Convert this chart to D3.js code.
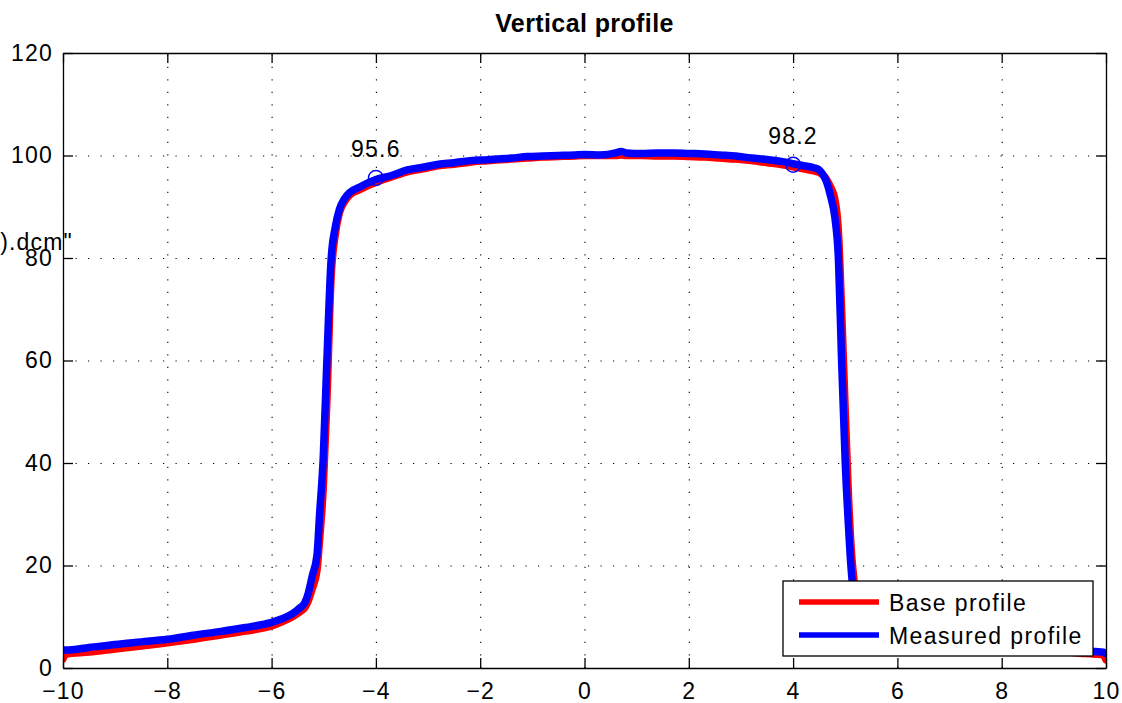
<!DOCTYPE html>
<html>
<head>
<meta charset="utf-8">
<script src="https://cdn.jsdelivr.net/npm/d3@7"></script>
<style>
  body { margin: 0; background: #fff; }
  text { font-family: "Liberation Sans", Arial, Helvetica, sans-serif; }
</style>
</head>
<body>
<script>
// positions along the profile (cm)
const xPos = [-10, -9.95, -9.5, -9, -8.5, -8, -7.5, -7, -6.5, -6, -5.8, -5.6, -5.45, -5.36, -5.3, -5.22, -5.13, -5.08, -5.01, -4.94,
  -4.86, -4.78, -4.7, -4.6, -4.5, -4.3, -4.0, -3.7, -3.4, -3.1, -2.8, -2.5, -2.2, -2.0, -1.7, -1.4, -1.1, -0.8, -0.5, -0.2,
  0, 0.3, 0.6, 0.7, 0.8, 1.1, 1.4, 1.7, 2.0, 2.3, 2.6, 2.9, 3.2, 3.5, 3.8, 4.0, 4.2, 4.4, 4.5, 4.6,
  4.65, 4.72, 4.8, 4.87, 4.93, 5.0, 5.06, 5.11, 5.17, 5.25, 5.35, 5.45, 5.6, 5.8, 6, 6.5, 7, 7.5, 8, 8.5,
  9, 9.5, 9.8, 9.95, 10]

const baseProfile = [1.8, 2.7, 3.1, 3.7, 4.3, 4.9, 5.6, 6.4, 7.2, 8.2, 9.0, 10.0, 11.0, 11.8, 13, 15.5, 19, 25, 35, 52,
  76, 84.5, 88.8, 91, 92.3, 93.4, 94.8, 95.8, 96.8, 97.4, 98.0, 98.3, 98.7, 98.9, 99.1, 99.3, 99.5, 99.7, 99.8, 99.9,
  100.0, 100.0, 100.0, 100.1, 100.0, 100.0, 99.9, 99.9, 99.8, 99.7, 99.5, 99.3, 99.0, 98.6, 98.2, 97.8, 97.4, 97.0, 96.7, 95.9,
  95.2, 93.8, 91.5, 85, 70, 50, 34, 24, 17, 13.5, 11.6, 10.6, 9.7, 8.9, 8.2, 7.0, 6.0, 5.2, 4.5, 3.9,
  3.3, 2.9, 2.7, 2.5, 1.6]

const measuredProfile = [3.5, 3.5, 4.0, 4.6, 5.1, 5.6, 6.4, 7.1, 7.9, 8.9, 9.6, 10.6, 11.8, 12.8, 14.5, 18, 22, 30, 41, 60,
  79.5, 86, 89.5, 91.6, 92.8, 93.9, 95.3, 96.1, 97.2, 97.7, 98.3, 98.6, 99.0, 99.1, 99.3, 99.5, 99.8, 99.9, 100.0, 100.1,
  100.2, 100.1, 100.5, 100.8, 100.5, 100.4, 100.5, 100.5, 100.4, 100.3, 100.1, 99.9, 99.5, 99.2, 98.8, 98.4, 98.0, 97.6, 97.2, 95.8,
  94.6, 92, 88, 79.6, 60, 40, 28, 19.7, 14, 12.5, 11.5, 10.8, 10, 9.2, 8.6, 7.4, 6.4, 5.6, 5.0, 4.4,
  3.9, 3.4, 3.2, 3.1, 2.8]

// points annotated on the measured profile
const markX = [-4, 4]
const markY = [95.6, 98.2]
const markLabels = ['95.6', '98.2']

const xTicks = [-10, -8, -6, -4, -2, 0, 2, 4, 6, 8, 10]
const yTicks = [0, 20, 40, 60, 80, 100, 120]

const seriesNames = ['Base profile', 'Measured profile']
const seriesColors = ['#ff0000', '#0000ff']

const margin = {top: 53, left: 63, right: 16, bottom: 35}
const width = 1122 - margin.left - margin.right
const height = 703 - margin.top - margin.bottom

const svg = d3.select('body').append('svg')
  .attr('width', 1122)
  .attr('height', 703)

const g = svg.append('g')
  .attr('transform', `translate(${margin.left},${margin.top})`)

const x = d3.scaleLinear().domain([-10, 10]).range([0, width])
const y = d3.scaleLinear().domain([0, 120]).range([height, 0])

// dotted grid
g.append('g').attr('class', 'grid')
  .attr('transform', `translate(0,${height})`)
  .call(d3.axisBottom(x).tickValues(xTicks).tickSize(-height).tickFormat(''))
g.append('g').attr('class', 'grid')
  .call(d3.axisLeft(y).tickValues(yTicks).tickSize(-width).tickFormat(''))
g.selectAll('.grid .domain').remove()
g.selectAll('.grid line')
  .attr('stroke', '#000')
  .attr('stroke-width', 1.1)
  .attr('stroke-dasharray', '1.2,11.3')

svg.append('clipPath').attr('id', 'clip')
  .append('rect').attr('width', width).attr('height', height)

const line = (vals) => d3.line()
  .x((d, i) => x(xPos[i]))
  .y((d) => y(d))
  .curve(d3.curveMonotoneX)(vals)

const lines = g.append('g').attr('clip-path', 'url(#clip)')
;[baseProfile, measuredProfile].forEach((vals, i) => {
  lines.append('path')
    .attr('d', line(vals))
    .attr('fill', 'none')
    .attr('stroke', seriesColors[i])
    .attr('stroke-width', 7.5)
    .attr('stroke-linejoin', 'round')
    .attr('stroke-linecap', 'round')
})

// markers + labels
markX.forEach((mx, i) => {
  g.append('circle')
    .attr('cx', x(mx)).attr('cy', y(markY[i])).attr('r', 7.5)
    .attr('fill', 'none').attr('stroke', '#0000ff').attr('stroke-width', 1.4)
  g.append('text')
    .attr('x', x(mx)).attr('y', y(markY[i]) - 21)
    .attr('text-anchor', 'middle')
    .attr('font-size', 23).attr('letter-spacing', 1.2)
    .text(markLabels[i])
})

// axes, ticks inward
const styleAxis = (sel) => {
  sel.select('.domain').attr('stroke', '#000').attr('stroke-width', 1.3)
  sel.selectAll('.tick line').attr('stroke', '#000').attr('stroke-width', 1.3)
  sel.selectAll('text').attr('font-size', 23).attr('fill', '#000').attr('letter-spacing', 1.2)
    .style('font-family', '"Liberation Sans", Arial, Helvetica, sans-serif')
}

g.append('g').attr('transform', `translate(0,${height})`)
  .call(d3.axisBottom(x).tickValues(xTicks).tickSizeInner(-10).tickSizeOuter(0).tickPadding(15))
  .call(styleAxis)
g.append('g')
  .call(d3.axisTop(x).tickValues(xTicks).tickSizeInner(-10).tickSizeOuter(0).tickFormat(''))
  .call(styleAxis)
g.append('g')
  .call(d3.axisLeft(y).tickValues(yTicks).tickSizeInner(-10).tickSizeOuter(0).tickPadding(10))
  .call(styleAxis)
g.append('g').attr('transform', `translate(${width},0)`)
  .call(d3.axisRight(y).tickValues(yTicks).tickSizeInner(-10).tickSizeOuter(0).tickFormat(''))
  .call(styleAxis)

// title
svg.append('text')
  .attr('x', margin.left + width / 2).attr('y', 32)
  .attr('text-anchor', 'middle')
  .attr('font-size', 25).attr('font-weight', 'bold').attr('letter-spacing', 0.4)
  .text('Vertical profile')

// leftover y label text, cut off at the page edge
svg.append('text')
  .attr('x', 73).attr('y', 250)
  .attr('text-anchor', 'end')
  .attr('font-size', 23).attr('letter-spacing', 1.2)
  .text(').dcm"')

// legend
const legend = svg.append('g').attr('transform', 'translate(783,581)')
legend.append('rect')
  .attr('width', 310).attr('height', 75)
  .attr('fill', '#fff').attr('stroke', '#000').attr('stroke-width', 1.3)
seriesNames.forEach((name, i) => {
  const ly = 21 + i * 33
  legend.append('line')
    .attr('x1', 16).attr('x2', 96).attr('y1', ly).attr('y2', ly)
    .attr('stroke', seriesColors[i]).attr('stroke-width', 5.5)
  legend.append('text')
    .attr('x', 106).attr('y', ly + 8.5)
    .attr('font-size', 23).attr('letter-spacing', 1.4)
    .text(name)
})
</script>
</body>
</html>
